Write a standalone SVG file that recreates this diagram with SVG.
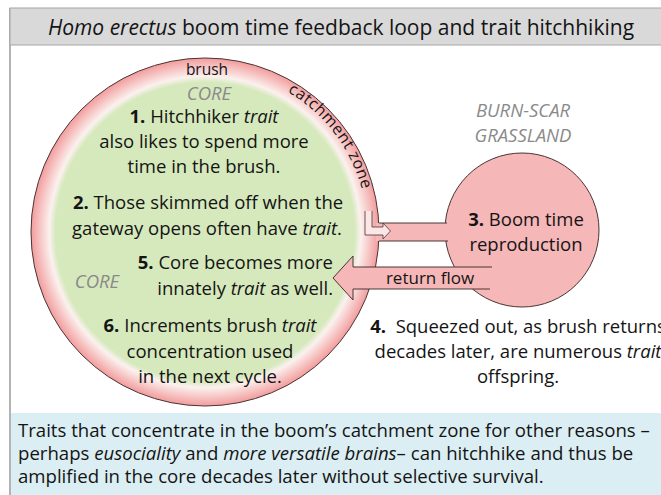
<svg xmlns="http://www.w3.org/2000/svg" width="661" height="495" viewBox="0 0 661 495">
<style>
text{font-family:"Open Sans","Liberation Sans",sans-serif;fill:#141414}
.body{font-size:18.5px;text-anchor:middle}
.lbl{font-size:18.5px;font-style:italic;fill:#8a8a8a;text-anchor:middle}
.note{font-size:18.6px}
.b{font-weight:bold}
.i{font-style:italic}
.outl{stroke:#4a3434;stroke-width:1}
</style>
<defs>
<radialGradient id="ringGrad" cx="205" cy="232" r="174" gradientUnits="userSpaceOnUse">
<stop offset="0" stop-color="#d6e9bd"/>
<stop offset="0.86" stop-color="#d6e9bd"/>
<stop offset="0.895" stop-color="#fbf1ef"/>
<stop offset="1" stop-color="#f29c9c"/>
</radialGradient>
<path id="catchArc" d="M287.6,91.8 A162,162 0 0 1 366.6,215.1"/>
</defs>

<g id="frame">
<line x1="10" y1="8" x2="10" y2="495" stroke="#b3b3b3" stroke-width="2"/>
<rect x="10" y="8" width="652" height="37" fill="#d9d9d9" stroke="#a6a6a6" stroke-width="1"/>
<text x="341" y="35" font-size="21" text-anchor="middle"><tspan class="i">Homo erectus</tspan> boom time feedback loop and trait hitchhiking</text>
</g>

<g id="bottom-note">
<rect x="11" y="413" width="650" height="82" fill="#dbeef3"/>
<text x="18" y="437" class="note">Traits that concentrate in the boom’s catchment zone for other reasons –</text>
<text x="18" y="460" class="note">perhaps <tspan class="i">eusociality</tspan> and <tspan class="i">more versatile brains</tspan>– can hitchhike and thus be</text>
<text x="18" y="483" class="note">amplified in the core decades later without selective survival.</text>
</g>

<g id="core-circle">
<circle cx="205" cy="232" r="174" fill="url(#ringGrad)" class="outl"/>
<text x="207" y="75" font-size="15.5" text-anchor="middle">brush</text>
<text font-size="16" letter-spacing="0.5"><textPath href="#catchArc">catchment zone</textPath></text>
<text x="209" y="100" class="lbl">CORE</text>
<text x="97" y="288" class="lbl">CORE</text>
<text x="204" y="123" class="body"><tspan class="b">1.</tspan> Hitchhiker <tspan class="i">trait</tspan></text>
<text x="204" y="148" class="body">also likes to spend more</text>
<text x="204" y="173" class="body">time in the brush.</text>
<text x="208" y="209" class="body"><tspan class="b">2.</tspan> Those skimmed off when the</text>
<text x="207" y="235" class="body">gateway opens often have <tspan class="i">trait</tspan>.</text>
<text x="333" y="269" font-size="18.5" text-anchor="end"><tspan class="b">5.</tspan> Core becomes more</text>
<text x="333" y="295" font-size="18.5" text-anchor="end">innately <tspan class="i">trait</tspan> as well.</text>
<text x="210" y="332" class="body"><tspan class="b">6.</tspan> Increments brush <tspan class="i">trait</tspan></text>
<text x="210" y="358" class="body">concentration used</text>
<text x="210" y="383" class="body">in the next cycle.</text>
</g>

<g id="boom-circle">
<circle cx="522" cy="230" r="77" fill="#f5b7b7" class="outl"/>
<text x="523" y="117" class="lbl">BURN-SCAR</text>
<text x="523" y="142" class="lbl">GRASSLAND</text>
</g>

<g id="connectors">
<rect x="376" y="223" width="76" height="18" fill="#f5b7b7"/>
<line x1="379" y1="223" x2="447" y2="223" class="outl"/>
<line x1="379" y1="241" x2="448" y2="241" class="outl"/>
<path d="M365,211 L365,235 L383,235 L383,239 L390.5,231 L383,223 L383,227 L372,227 L372,211" fill="#fce6e6" stroke="#4a3434" stroke-width="0.8"/>
<path d="M492,267 L353,267 L353,256 L333,278 L353,300 L353,289 L490,289 Z" fill="#f5b7b7"/>
<path d="M492,267 L353,267 L353,256 L333,278 L353,300 L353,289 L490,289" fill="none" class="outl"/>
<text x="430" y="284" font-size="17" text-anchor="middle">return flow</text>
</g>

<g id="boom-text">
<text x="526" y="226" class="body"><tspan class="b">3.</tspan> Boom time</text>
<text x="526" y="251" class="body">reproduction</text>
<text x="518" y="333" class="body"><tspan class="b">4.</tspan>&#160; Squeezed out, as brush returns</text>
<text x="518" y="358" class="body">decades later, are numerous <tspan class="i">trait</tspan></text>
<text x="518" y="383" class="body">offspring.</text>
</g>
</svg>
